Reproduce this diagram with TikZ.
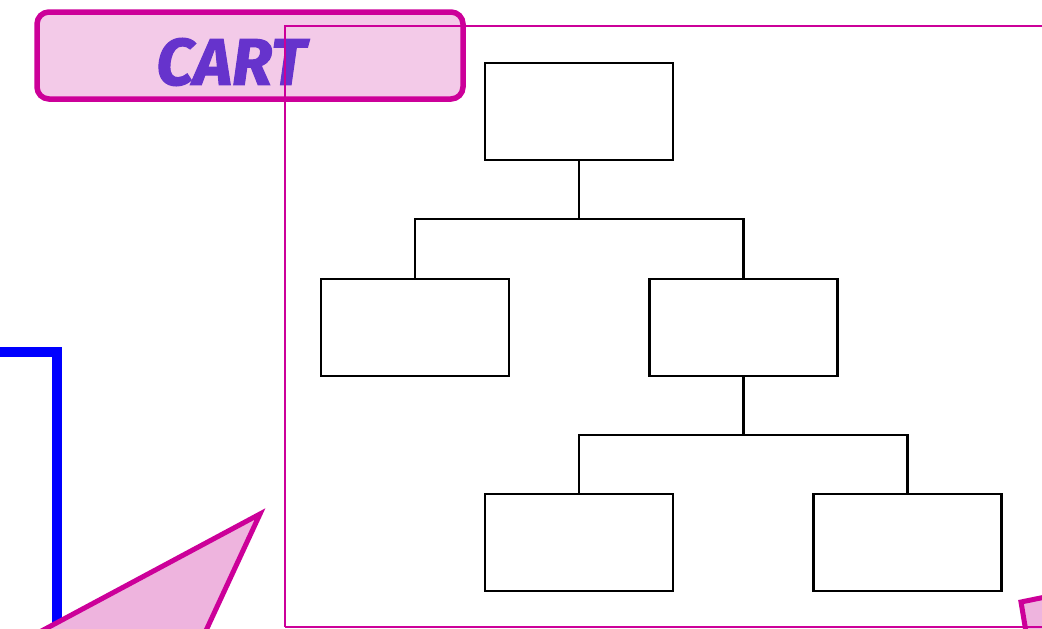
\documentclass[tikz,border=0pt]{standalone}
\usepackage{fontspec}
\newfontfamily\cartfont[BoldItalicFeatures={FakeBold=1.6}]{Fira Sans}
\definecolor{magentaline}{HTML}{CC0099}
\definecolor{pinkfill}{HTML}{F3CAE8}
\definecolor{trifill}{HTML}{EEB4DE}
\definecolor{titlepurple}{HTML}{6633CC}
\tikzset{
    treebox/.style={draw=black, line width=2.2pt, minimum width=188pt, minimum height=97pt, inner sep=0pt},
    treeline/.style={draw=black, line width=2.2pt},
}
\begin{document}
\begin{tikzpicture}[x=1pt, y=-1pt]
        \useasboundingbox (0,0) rectangle (1042,629);
        \clip (0,0) rectangle (1042,629);
        % decorations at the edges
        \draw[blue, line width=10pt] (-10,352) -- (57,352) -- (57,640);
        \draw[magentaline, fill=trifill, line width=5pt, line join=miter] (260,514) -- (6,650) -- (197,650) -- cycle;
        \draw[magentaline, fill=trifill, line width=5pt, line join=miter] (1021,602) -- (1060,594) -- (1060,650) -- (1029,650) -- cycle;
        % title
        \node[draw=magentaline, fill=pinkfill, line width=5.5pt, rounded corners=12pt,
              minimum width=426pt, minimum height=87pt, inner sep=0pt] (title) at (250,55.5) {};
        \node[text=titlepurple, font=\cartfont\bfseries\itshape\fontsize{66}{66}\selectfont] (cart) at (231,62) {CART};
        % frame
        \draw[magentaline, line width=2pt] (285,627) -- (285,26) -- (1050,26);
        \draw[magentaline, line width=2pt] (285,627) -- (1050,627);
        % tree
        \node[treebox] (root) at (579,111.5) {};
        \node[treebox] (left) at (415,327.5) {};
        \node[treebox] (right) at (743.5,327.5) {};
        \node[treebox] (rleft) at (579,542.5) {};
        \node[treebox] (rright) at (907.5,542.5) {};
        \coordinate (j1) at (579,219);
        \coordinate (j2) at (743.5,435);
        \draw[treeline] (root.south) -- (j1);
        \draw[treeline] (left.north) |- (j1) -| (right.north);
        \draw[treeline] (right.south) -- (j2);
        \draw[treeline] (rleft.north) |- (j2) -| (rright.north);
    \end{tikzpicture}
\end{document}
